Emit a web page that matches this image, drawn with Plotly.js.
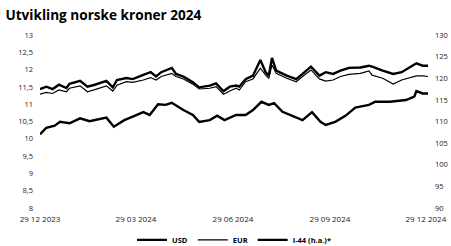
<!DOCTYPE html>
<html>
<head>
<meta charset="utf-8">
<script src="https://cdn.plot.ly/plotly-3.0.1.min.js"></script>
<style>html,body{margin:0;padding:0;background:#fff;}#chart{width:451px;height:246px;}</style>
</head>
<body>
<div id="chart"></div>
<script>
const titleText = "Utvikling norske kroner 2024";
const seriesNames = ["USD", "EUR", "I-44 (h.a.)*"];

const datesUsd = ["2023-12-29","2024-01-04","2024-01-12","2024-01-17","2024-01-26","2024-02-05","2024-02-14","2024-02-20","2024-03-01","2024-03-08","2024-03-18","2024-03-26","2024-04-05","2024-04-11","2024-04-19","2024-04-26","2024-05-02","2024-05-13","2024-05-22","2024-05-28","2024-06-07","2024-06-14","2024-06-21","2024-07-02","2024-07-11","2024-07-18","2024-07-26","2024-08-02","2024-08-07","2024-08-15","2024-08-26","2024-09-03","2024-09-12","2024-09-20","2024-09-25","2024-10-04","2024-10-14","2024-10-23","2024-11-05","2024-11-11","2024-11-25","2024-12-10","2024-12-18","2024-12-20","2024-12-26","2024-12-31"];
const usd = [10.13,10.32,10.38,10.49,10.45,10.59,10.51,10.54,10.61,10.35,10.54,10.64,10.77,10.69,11.00,10.98,11.04,10.83,10.69,10.49,10.54,10.67,10.54,10.69,10.69,10.83,11.07,10.98,11.03,10.78,10.64,10.54,10.77,10.49,10.40,10.49,10.67,10.90,10.98,11.07,11.07,11.12,11.22,11.38,11.31,11.31];

const dates = ["2023-12-29","2024-01-04","2024-01-10","2024-01-16","2024-01-23","2024-01-26","2024-02-05","2024-02-12","2024-02-19","2024-03-01","2024-03-07","2024-03-11","2024-03-20","2024-03-26","2024-04-05","2024-04-12","2024-04-17","2024-04-22","2024-05-02","2024-05-06","2024-05-13","2024-05-22","2024-05-28","2024-06-07","2024-06-13","2024-06-20","2024-06-26","2024-07-02","2024-07-05","2024-07-11","2024-07-18","2024-07-25","2024-07-30","2024-08-02","2024-08-05","2024-08-09","2024-08-19","2024-08-28","2024-09-03","2024-09-11","2024-09-19","2024-09-25","2024-10-02","2024-10-09","2024-10-17","2024-10-28","2024-11-05","2024-11-08","2024-11-18","2024-11-28","2024-12-06","2024-12-20","2024-12-26","2024-12-31"];
const eur = [11.29,11.34,11.31,11.41,11.36,11.46,11.53,11.36,11.42,11.53,11.38,11.55,11.65,11.63,11.70,11.77,11.70,11.80,11.89,11.80,11.73,11.58,11.44,11.46,11.51,11.29,11.38,11.46,11.41,11.65,11.73,12.04,11.84,11.75,12.13,11.89,11.75,11.65,11.80,11.99,11.73,11.67,11.70,11.80,11.86,11.89,11.96,11.84,11.75,11.58,11.70,11.82,11.82,11.80];
const i44 = [117.5,118.05,117.5,118.5,117.75,118.7,119.4,118.05,118.5,119.4,117.9,119.6,120.05,119.8,120.8,121.4,120.4,121.4,122.4,121.0,120.4,119.05,117.9,118.3,118.8,117.0,118.05,118.3,118.05,119.8,120.6,124.2,121.4,120.6,124.7,121.75,120.6,119.8,121.0,122.7,120.6,121.4,121.0,121.75,122.4,122.5,122.9,122.7,121.75,121.0,121.4,123.45,122.9,122.9];

const xTickVals = ["2023-12-29","2024-03-29","2024-06-29","2024-09-29","2024-12-29"];
const xTickText = ["29 12 2023","29 03 2024","29 06 2024","29 09 2024","29 12 2024"];

const font = "Open Sans, Lato, DejaVu Sans, sans-serif";
const traces = [
  {x: datesUsd, y: usd, name: seriesNames[0], type: "scatter", mode: "lines", line: {color: "#000", width: 2.4}, yaxis: "y"},
  {x: dates, y: eur, name: seriesNames[1], type: "scatter", mode: "lines", line: {color: "#000", width: 1.2}, yaxis: "y"},
  {x: dates, y: i44, name: seriesNames[2], type: "scatter", mode: "lines", line: {color: "#000", width: 2.4}, yaxis: "y2"}
];
const layout = {
  width: 451, height: 246,
  margin: {l: 40, r: 23, t: 35, b: 38, autoexpand: false},
  paper_bgcolor: "#fff", plot_bgcolor: "#fff",
  separators: ", ",
  font: {family: font, size: 8, color: "#222"},
  title: {text: "<b>" + titleText + "</b>", x: 0.012, xanchor: "left", y: 0.94, yanchor: "middle", font: {family: font, size: 13.6, color: "#000"}},
  showlegend: true,
  legend: {orientation: "h", x: 0.5, xanchor: "center", yref: "container", y: 0.025, yanchor: "middle", font: {family: font, size: 7.5, color: "#000", weight: "bold"}, itemwidth: 30, tracegroupgap: 0},
  xaxis: {type: "date", range: ["2023-12-29", "2024-12-31"], tickmode: "array", tickvals: xTickVals, ticktext: xTickText, showgrid: false, zeroline: false, showline: false, ticks: "", ticklabelstandoff: 5, automargin: false, tickfont: {size: 8}},
  yaxis: {range: [8, 13], dtick: 0.5, tick0: 8, showgrid: false, zeroline: false, showline: false, ticks: "", ticklabelstandoff: 6, automargin: false, tickfont: {size: 7.5}},
  yaxis2: {range: [90, 130], dtick: 5, tick0: 90, overlaying: "y", side: "right", showgrid: false, zeroline: false, showline: false, ticks: "", ticklabelstandoff: 6, automargin: false, tickfont: {size: 7.5}}
};
Plotly.newPlot("chart", traces, layout, {displayModeBar: false, staticPlot: true});
</script>
</body>
</html>
